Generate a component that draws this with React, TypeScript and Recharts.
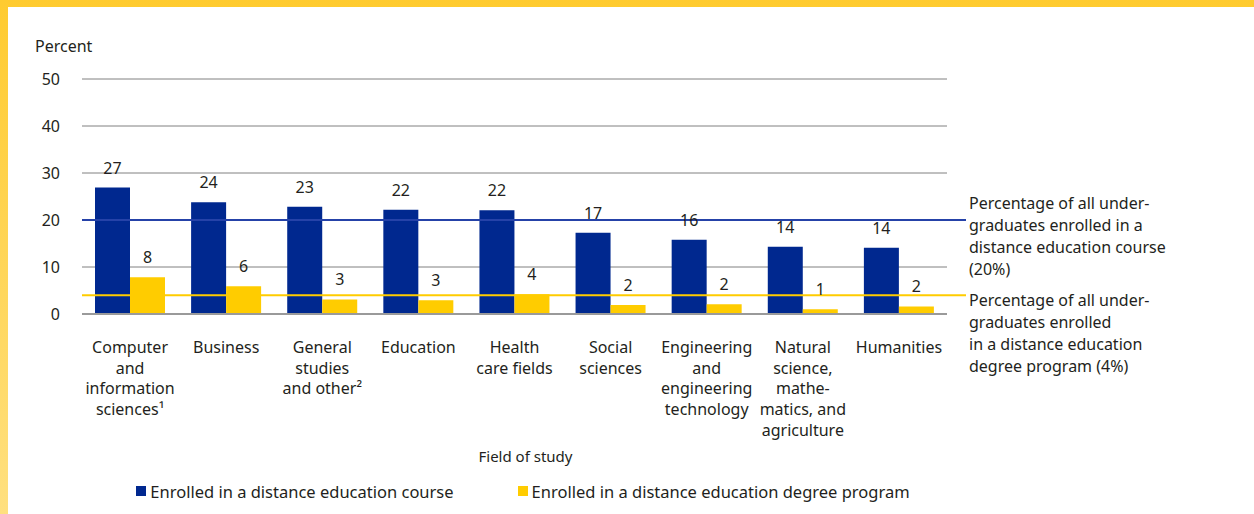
import React from 'react';
import {
  BarChart,
  Bar,
  XAxis,
  YAxis,
  CartesianGrid,
  ReferenceLine,
  Label,
  LabelList,
  Legend,
} from 'recharts';

// categories, each split into the lines shown under the axis
const CATEGORY_LINES: string[][] = [
  ['Computer', 'and', 'information', 'sciences¹'],
  ['Business'],
  ['General', 'studies', 'and other²'],
  ['Education'],
  ['Health', 'care fields'],
  ['Social', 'sciences'],
  ['Engineering', 'and', 'engineering', 'technology'],
  ['Natural', 'science,', 'mathe-', 'matics, and', 'agriculture'],
  ['Humanities'],
];

const COURSE = [26.9, 23.8, 22.8, 22.2, 22.1, 17.3, 15.8, 14.3, 14.1];
const PROGRAM = [7.8, 5.9, 3.1, 2.9, 4.2, 1.9, 2.1, 1.0, 1.6];

const Y_TICKS = [0, 10, 20, 30, 40, 50];

const COURSE_AVG = 20;
const PROGRAM_AVG = 4;

const COURSE_NOTE = ['Percentage of all under-', 'graduates enrolled in a', 'distance education course', '(20%)'];
const PROGRAM_NOTE = ['Percentage of all under-', 'graduates enrolled', 'in a distance education', 'degree program (4%)'];

const SERIES_NAMES = ['Enrolled in a distance education course', 'Enrolled in a distance education degree program'];

const BLUE = '#00288f';
const BLUE_LINE = '#2542a8';
const YELLOW = '#ffcc00';
const TEXT = '#231f20';
const FONT = '"Noto Sans", "Open Sans", sans-serif';

const data = CATEGORY_LINES.map((lines, i) => ({
  field: lines.join(' '),
  course: COURSE[i],
  program: PROGRAM[i],
}));

function CategoryTick(props: any) {
  const { x, y, payload } = props;
  const lines = CATEGORY_LINES[payload.index] || [];
  return (
    <text x={x} y={y} textAnchor="middle" fontSize={16} fill={TEXT} fontFamily={FONT}>
      {lines.map((l, i) => (
        <tspan key={i} x={x} dy={i === 0 ? 39 : 20.7}>
          {l}
        </tspan>
      ))}
    </text>
  );
}

function noteLabel(lines: string[], firstDy: number) {
  return (props: any) => {
    const vb = props.viewBox || {};
    const x = (vb.x || 0) + (vb.width || 0) + 22;
    return (
      <text x={x} y={vb.y} fontSize={16} fill={TEXT} fontFamily={FONT}>
        {lines.map((l, i) => (
          <tspan key={i} x={x} dy={i === 0 ? firstDy : 22}>
            {l}
          </tspan>
        ))}
      </text>
    );
  };
}

function longLine(color: string) {
  return (p: any) => (
    <line x1={p.x1} y1={p.y1} x2={p.x2 + 19} y2={p.y2} stroke={color} strokeWidth={2} />
  );
}

function PercentLabel(props: any) {
  const vb = props.viewBox || {};
  return (
    <text x={35} y={vb.y - 27} fontSize={16} fill={TEXT} fontFamily={FONT}>
      Percent
    </text>
  );
}

function renderLegend(props: any) {
  const items = props.payload || [];
  return (
    <div
      style={{
        height: 30,
        display: 'flex',
        justifyContent: 'center',
        alignItems: 'center',
        gap: 64,
        fontFamily: FONT,
        fontSize: 16.5,
        color: TEXT,
      }}
    >
      {items.map((it: any) => (
        <span key={it.value} style={{ display: 'flex', alignItems: 'center' }}>
          <span style={{ width: 10, height: 10, background: it.color, marginRight: 4, display: 'inline-block' }} />
          {it.value}
        </span>
      ))}
    </div>
  );
}

export default function App() {
  return (
    <div
      style={{
        position: 'absolute',
        left: 0,
        top: 0,
        width: 1254,
        height: 514,
        background: 'linear-gradient(180deg, #ffcb2f 0%, #ffe07f 100%)',
        overflow: 'hidden',
      }}
    >
      <div style={{ position: 'absolute', left: 8, top: 7, right: 0, bottom: 0, background: '#fff' }} />
      <div style={{ position: 'absolute', left: 0, top: 0 }}>
        <BarChart
          width={1254}
          height={514}
          data={data}
          margin={{ top: 79, right: 307, left: 22, bottom: 8 }}
          barGap={0}
          barCategoryGap={13}
          style={{ fontFamily: FONT }}
        >
          <CartesianGrid vertical={false} stroke="#808080" strokeWidth={1} />
          <XAxis
            dataKey="field"
            height={162}
            interval={0}
            tickLine={false}
            tickSize={0}
            tickMargin={0}
            axisLine={{ stroke: '#9a9a9a', strokeWidth: 2 }}
            tick={<CategoryTick />}
          >
            <Label
              value="Field of study"
              position="insideBottom"
              offset={14}
              dx={11}
              fontSize={15}
              fill={TEXT}
              fontFamily={FONT}
            />
          </XAxis>
          <YAxis
            width={60}
            domain={[0, 50]}
            ticks={Y_TICKS}
            tickLine={false}
            axisLine={false}
            tickSize={0}
            tickMargin={22}
            tick={{ fontSize: 16, fill: TEXT, fontFamily: FONT }}
          >
            <Label content={<PercentLabel />} position="top" />
          </YAxis>
          <Legend
            verticalAlign="bottom"
            content={renderLegend}
            wrapperStyle={{ left: 0, width: 1046, bottom: 8 }}
          />
          <Bar dataKey="course" name={SERIES_NAMES[0]} fill={BLUE} isAnimationActive={false}>
            <LabelList
              dataKey="course"
              position="top"
              offset={14}
              formatter={(v: any) => Math.round(v)}
              fill={TEXT}
              fontSize={16}
              fontFamily={FONT}
            />
          </Bar>
          <Bar dataKey="program" name={SERIES_NAMES[1]} fill={YELLOW} isAnimationActive={false}>
            <LabelList
              dataKey="program"
              position="top"
              offset={14}
              formatter={(v: any) => Math.round(v)}
              fill={TEXT}
              fontSize={16}
              fontFamily={FONT}
            />
          </Bar>
          <ReferenceLine y={COURSE_AVG} shape={longLine(BLUE_LINE)}>
            <Label content={noteLabel(COURSE_NOTE, -11)} />
          </ReferenceLine>
          <ReferenceLine y={PROGRAM_AVG} shape={longLine(YELLOW)}>
            <Label content={noteLabel(PROGRAM_NOTE, 11)} />
          </ReferenceLine>
        </BarChart>
      </div>
    </div>
  );
}
